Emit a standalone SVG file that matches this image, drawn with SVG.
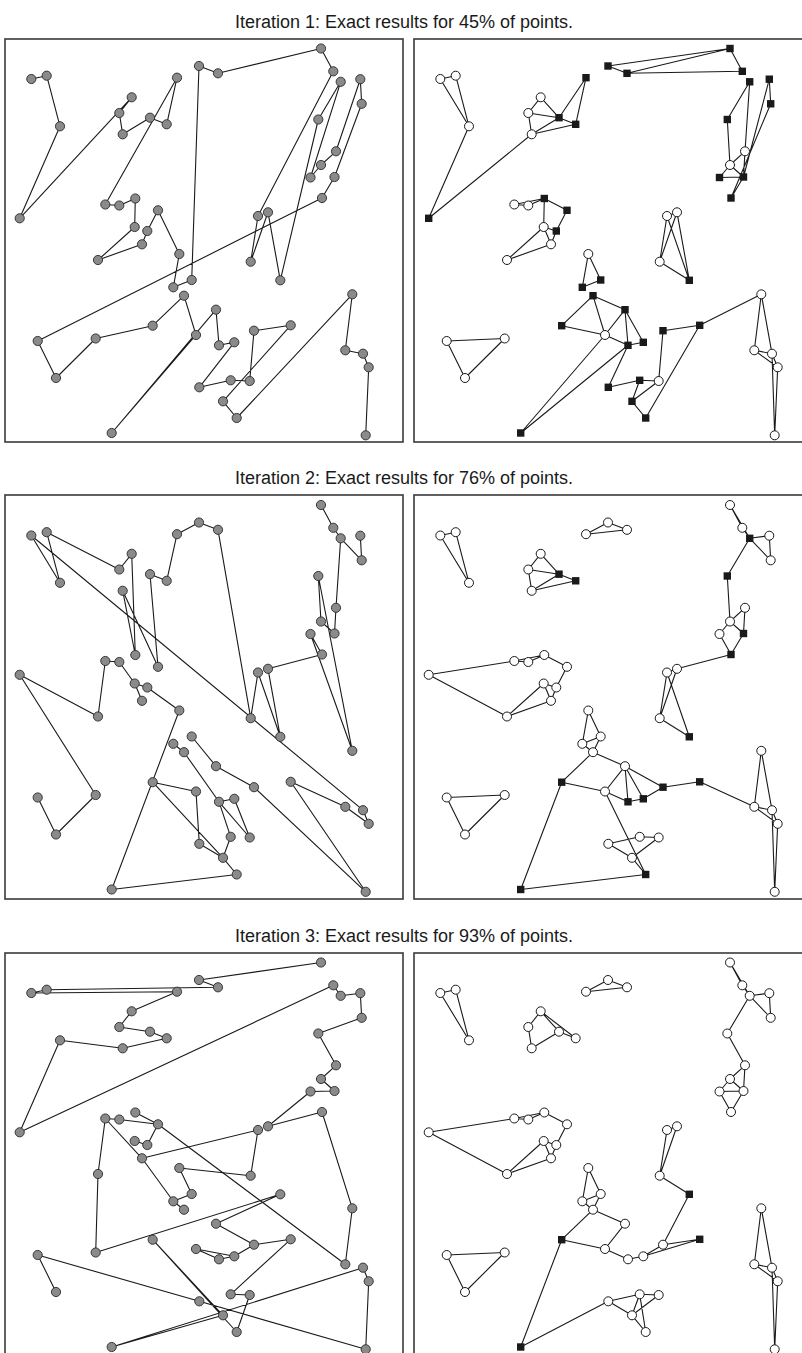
<svg xmlns="http://www.w3.org/2000/svg" width="802" height="1353" viewBox="0 0 802 1353">
<style>
.frame{fill:#fff;stroke:#3a3a3a;stroke-width:1.6}
.edge{fill:none;stroke:#1a1a1a;stroke-width:1.1;stroke-linejoin:round}
.title{font-family:"Liberation Sans",Arial,sans-serif;font-size:18px;fill:#1a1a1a;text-anchor:middle}
</style>
<defs>
<circle id="gc" r="4.6" fill="#8a8a8a" stroke="#2a2a2a" stroke-width="0.9"/>
<circle id="wc" r="4.5" fill="#fff" stroke="#1a1a1a" stroke-width="1"/>
<rect id="sq" x="-3.7" y="-3.7" width="7.4" height="7.4" fill="#1a1a1a"/>
</defs>
<rect width="802" height="1353" fill="#fff"/>
<g id="titles">
<text class="title" x="404" y="28">Iteration 1: Exact results for 45% of points.</text>
<text class="title" x="404" y="484">Iteration 2: Exact results for 76% of points.</text>
<text class="title" x="404" y="942">Iteration 3: Exact results for 93% of points.</text>
</g>
<g id="frames">
<rect class="frame" x="5" y="39" width="398" height="403"/>
<rect class="frame" x="414" y="39" width="400" height="403"/>
<rect class="frame" x="5" y="495" width="398" height="404"/>
<rect class="frame" x="414" y="495" width="400" height="404"/>
<rect class="frame" x="5" y="953" width="398" height="410"/>
<rect class="frame" x="414" y="953" width="400" height="410"/>
</g>
<g id="connectors">
<g transform="translate(5,39)">
<polyline class="edge" points="26.3,40 41.7,36.7 55,87.3 14.7,179.3 126.7,58.3 114.3,74 117.7,95.3 145,78.7 161.7,85.3 172,38.7 100.3,165.5 114.3,166.5 130.3,159.5 129.7,188 93,221 137,205.3 142.3,192 153,171.3 174.3,215 168.3,248.3 186.7,241 194,27 213,34.3 316,9.5 328.3,32.3 253,177 245.7,222.7 263,173.3 275.3,241.3 313.3,80.5 335.7,42.8 305.5,138.5 316,126 331,112.3 355.3,40.2 356.7,64.8 329.5,138 317,159 32.7,302 51,339 90.7,299.5 147.7,286.7 179,256.7 191,296 106.7,394 211,270.7 214,306.3 229.3,303.3 194.3,348.3 225.7,341.3 244.7,342 249,291.7 285.7,286.3 218,362.3 231.7,379 347.3,255.3 340.3,311.3 358,314.7 363.7,328.3 360.7,396.3"/>
</g>
<g transform="translate(5,495.5)">
<path class="edge" d="M26.3 40L55 87.3M41.7 36.7L55 87.3M41.7 36.7L114.3 74L126.7 58.3L130.3 159.5M117.7 95.3L130.3 159.5M117.7 95.3L153 171.3L145 78.7L161.7 85.3L172 38.7L194 27L213 34.3L245.7 222.7M26.3 40L358 314.7M316 9.5L328.3 32.3L335.7 42.8L356.7 64.8L355.3 40.2M335.7 42.8L331 112.3L329.5 138L316 126L313.3 80.5L347.3 255.3M263 173.3L317 159L305.5 138.5L347.3 255.3M245.7 222.7L253 177L275.3 241.3L263 173.3M100.3 165.5L114.3 166.5L129.7 188L137 205.3M129.7 188L142.3 192L174.3 215L106.7 394M14.7 179.3L90.7 299.5M14.7 179.3L93 221L100.3 165.5M90.7 299.5L51 339L32.7 302M168.3 248.3L179 256.7L214 306.3M186.7 241L211 270.7L249 291.7L360.7 396.3M214 306.3L229.3 303.3L244.7 342M214 306.3L225.7 341.3L218 362.3M214 306.3L244.7 342M194.3 348.3L218 362.3L231.7 379L106.7 394M147.7 286.7L218 362.3M191 296L194.3 348.3M147.7 286.7L191 296M285.7 286.3L340.3 311.3L363.7 328.3L358 314.7M285.7 286.3L360.7 396.3"/>
</g>
<g transform="translate(5,953)">
<polyline class="edge" points="316,9.5 194,27 213,34.3 41.7,36.7 26.3,40 172,38.7 126.7,58.3 114.3,74 145,78.7 161.7,85.3 117.7,95.3 55,87.3 14.7,179.3 328.3,32.3 335.7,42.8 355.3,40.2 356.7,64.8 313.3,80.5 331,112.3 316,126 329.5,138 305.5,138.5 263,173.3 317,159 347.3,255.3 340.3,311.3 153,171.3"/>
<path class="edge" d="M153 171.3L142.3 192L129.7 188M114.3 166.5L153 171.3M130.3 159.5L153 171.3M100.3 165.5L114.3 166.5M100.3 165.5L93 221L90.7 299.5L275.3 241.3L211 270.7L249 291.7L229.3 303.3L214 306.3L191 296M191 296L229.3 303.3M249 291.7L285.7 286.3L225.7 341.3L244.7 342L231.7 379L147.7 286.7L218 362.3L106.7 394L358 314.7L363.7 328.3L360.7 396.3L194.3 348.3L32.7 302L51 339M100.3 165.5L137 205.3L253 177L245.7 222.7L174.3 215L186.7 241L168.3 248.3L179 256.7M137 205.3L168.3 248.3"/>
</g>
<g transform="translate(414,39)">
<path class="edge" d="M26.3 40L41.7 36.7L55 87.3ZM55 87.3L14.7 179.3L117.7 95.3M126.7 58.3L114.3 74L117.7 95.3L145 78.7ZM114.3 74L145 78.7L161.7 85.3L117.7 95.3M145 78.7L172 38.7L161.7 85.3M194 27L213 34.3L316 9.5ZM213 34.3L328.3 32.3L316 9.5M335.7 42.8L313.3 80.5L316 126M335.7 42.8L331 112.3M355.3 40.2L356.7 64.8L317 159M355.3 40.2L329.5 138M331 112.3L316 126L329.5 138ZM316 126L305.5 138.5L329.5 138L317 159M100.3 165.5L114.3 166.5L130.3 159.5ZM130.3 159.5L129.7 188M130.3 159.5L153 171.3L142.3 192M129.7 188L142.3 192L137 205.3ZM137 205.3L93 221L129.7 188M253 177L263 173.3L245.7 222.7ZM245.7 222.7L275.3 241.3L263 173.3M275.3 241.3L253 177M174.3 215L168.3 248.3L186.7 241ZM147.7 286.7L179 256.7L211 270.7M179 256.7L191 296M147.7 286.7L191 296M211 270.7L191 296L214 306.3M211 270.7L214 306.3M211 270.7L229.3 303.3M214 306.3L229.3 303.3M214 306.3L194.3 348.3L225.7 341.3M225.7 341.3L244.7 342L218 362.3ZM218 362.3L231.7 379L285.7 286.3M244.7 342L249 291.7L285.7 286.3L347.3 255.3M191 296L106.7 394L214 306.3M32.7 302L51 339L90.7 299.5ZM347.3 255.3L340.3 311.3L358 314.7ZM340.3 311.3L363.7 328.3L358 314.7M363.7 328.3L360.7 396.3L358 314.7"/>
</g>
<g transform="translate(414,495.5)">
<path class="edge" d="M26.3 40L41.7 36.7L55 87.3ZM126.7 58.3L114.3 74L117.7 95.3L145 78.7ZM114.3 74L145 78.7L161.7 85.3L117.7 95.3M172 38.7L194 27L213 34.3ZM316 9.5L328.3 32.3L335.7 42.8ZM335.7 42.8L355.3 40.2L356.7 64.8ZM335.7 42.8L313.3 80.5L316 126M331 112.3L316 126L329.5 138ZM316 126L305.5 138.5L317 159L329.5 138M317 159L263 173.3M100.3 165.5L14.7 179.3L93 221M100.3 165.5L114.3 166.5L130.3 159.5ZM130.3 159.5L153 171.3L142.3 192M129.7 188L142.3 192L137 205.3ZM137 205.3L93 221L129.7 188M253 177L263 173.3L245.7 222.7ZM245.7 222.7L275.3 241.3L253 177M186.7 241L174.3 215L168.3 248.3L186.7 241L179 256.7L168.3 248.3M179 256.7L211 270.7M211 270.7L191 296L214 306.3M191 296L147.7 286.7L179 256.7M211 270.7L214 306.3L229.3 303.3M211 270.7L229.3 303.3L249 291.7M211 270.7L249 291.7L285.7 286.3L340.3 311.3M147.7 286.7L106.7 394L231.7 379L191 296M194.3 348.3L218 362.3L231.7 379M194.3 348.3L225.7 341.3L244.7 342L218 362.3ZM32.7 302L51 339L90.7 299.5ZM347.3 255.3L340.3 311.3L358 314.7ZM340.3 311.3L363.7 328.3L358 314.7M363.7 328.3L360.7 396.3L358 314.7"/>
</g>
<g transform="translate(414,953)">
<path class="edge" d="M26.3 40L41.7 36.7L55 87.3ZM126.7 58.3L114.3 74L117.7 95.3L145 78.7ZM145 78.7L161.7 85.3L126.7 58.3M172 38.7L194 27L213 34.3ZM316 9.5L328.3 32.3L335.7 42.8ZM335.7 42.8L355.3 40.2L356.7 64.8ZM335.7 42.8L313.3 80.5L331 112.3M331 112.3L316 126L329.5 138ZM316 126L305.5 138.5L317 159L329.5 138L305.5 138.5M100.3 165.5L14.7 179.3L93 221M100.3 165.5L114.3 166.5L130.3 159.5ZM130.3 159.5L153 171.3L142.3 192M129.7 188L142.3 192L137 205.3ZM137 205.3L93 221L129.7 188M253 177L263 173.3L245.7 222.7ZM245.7 222.7L275.3 241.3M186.7 241L174.3 215L168.3 248.3L186.7 241L179 256.7L168.3 248.3M179 256.7L211 270.7M211 270.7L191 296L214 306.3M214 306.3L229.3 303.3L249 291.7L285.7 286.3L229.3 303.3M275.3 241.3L249 291.7M191 296L147.7 286.7L179 256.7M147.7 286.7L106.7 394L194.3 348.3M32.7 302L51 339L90.7 299.5ZM347.3 255.3L340.3 311.3L358 314.7ZM340.3 311.3L363.7 328.3L358 314.7M363.7 328.3L360.7 396.3L358 314.7M194.3 348.3L218 362.3L231.7 379L225.7 341.3ZM225.7 341.3L244.7 342L218 362.3Z"/>
</g>
</g>
<g id="nodes-L1" transform="translate(5,39)">
<g id="l1-A"><use href="#gc" x="26.3" y="40"/></g><g id="l1-B"><use href="#gc" x="41.7" y="36.7"/></g><g id="l1-C"><use href="#gc" x="55" y="87.3"/></g><g id="l1-D"><use href="#gc" x="14.7" y="179.3"/></g><g id="l1-E"><use href="#gc" x="126.7" y="58.3"/></g><g id="l1-F"><use href="#gc" x="114.3" y="74"/></g><g id="l1-G"><use href="#gc" x="117.7" y="95.3"/></g><g id="l1-H"><use href="#gc" x="145" y="78.7"/></g><g id="l1-I"><use href="#gc" x="161.7" y="85.3"/></g><g id="l1-J"><use href="#gc" x="172" y="38.7"/></g><g id="l1-K"><use href="#gc" x="194" y="27"/></g><g id="l1-L"><use href="#gc" x="213" y="34.3"/></g><g id="l1-M"><use href="#gc" x="316" y="9.5"/></g><g id="l1-N"><use href="#gc" x="328.3" y="32.3"/></g><g id="l1-O"><use href="#gc" x="335.7" y="42.8"/></g><g id="l1-P"><use href="#gc" x="355.3" y="40.2"/></g><g id="l1-Q"><use href="#gc" x="356.7" y="64.8"/></g><g id="l1-R"><use href="#gc" x="313.3" y="80.5"/></g><g id="l1-S"><use href="#gc" x="331" y="112.3"/></g><g id="l1-T"><use href="#gc" x="316" y="126"/></g><g id="l1-U"><use href="#gc" x="305.5" y="138.5"/></g><g id="l1-V"><use href="#gc" x="329.5" y="138"/></g><g id="l1-W"><use href="#gc" x="317" y="159"/></g><g id="l1-X"><use href="#gc" x="100.3" y="165.5"/></g><g id="l1-Y"><use href="#gc" x="114.3" y="166.5"/></g><g id="l1-Z"><use href="#gc" x="130.3" y="159.5"/></g><g id="l1-AA"><use href="#gc" x="129.7" y="188"/></g><g id="l1-AB"><use href="#gc" x="153" y="171.3"/></g><g id="l1-AC"><use href="#gc" x="142.3" y="192"/></g><g id="l1-AD"><use href="#gc" x="253" y="177"/></g><g id="l1-AE"><use href="#gc" x="263" y="173.3"/></g><g id="l1-AF"><use href="#gc" x="137" y="205.3"/></g><g id="l1-AG"><use href="#gc" x="93" y="221"/></g><g id="l1-AH"><use href="#gc" x="174.3" y="215"/></g><g id="l1-AI"><use href="#gc" x="245.7" y="222.7"/></g><g id="l1-AJ"><use href="#gc" x="275.3" y="241.3"/></g><g id="l1-AK"><use href="#gc" x="168.3" y="248.3"/></g><g id="l1-AL"><use href="#gc" x="186.7" y="241"/></g><g id="l1-AM"><use href="#gc" x="179" y="256.7"/></g><g id="l1-AN"><use href="#gc" x="32.7" y="302"/></g><g id="l1-AO"><use href="#gc" x="90.7" y="299.5"/></g><g id="l1-AP"><use href="#gc" x="147.7" y="286.7"/></g><g id="l1-AQ"><use href="#gc" x="191" y="296"/></g><g id="l1-AR"><use href="#gc" x="211" y="270.7"/></g><g id="l1-AS"><use href="#gc" x="51" y="339"/></g><g id="l1-AT"><use href="#gc" x="214" y="306.3"/></g><g id="l1-AU"><use href="#gc" x="229.3" y="303.3"/></g><g id="l1-AV"><use href="#gc" x="249" y="291.7"/></g><g id="l1-AW"><use href="#gc" x="285.7" y="286.3"/></g><g id="l1-AX"><use href="#gc" x="347.3" y="255.3"/></g><g id="l1-AY"><use href="#gc" x="340.3" y="311.3"/></g><g id="l1-AZ"><use href="#gc" x="358" y="314.7"/></g><g id="l1-BA"><use href="#gc" x="363.7" y="328.3"/></g><g id="l1-BB"><use href="#gc" x="194.3" y="348.3"/></g><g id="l1-BC"><use href="#gc" x="225.7" y="341.3"/></g><g id="l1-BD"><use href="#gc" x="244.7" y="342"/></g><g id="l1-BE"><use href="#gc" x="218" y="362.3"/></g><g id="l1-BF"><use href="#gc" x="231.7" y="379"/></g><g id="l1-BG"><use href="#gc" x="106.7" y="394"/></g><g id="l1-BH"><use href="#gc" x="360.7" y="396.3"/></g>
</g>
<g id="nodes-L2" transform="translate(5,495.5)">
<g id="l2-A"><use href="#gc" x="26.3" y="40"/></g><g id="l2-B"><use href="#gc" x="41.7" y="36.7"/></g><g id="l2-C"><use href="#gc" x="55" y="87.3"/></g><g id="l2-D"><use href="#gc" x="14.7" y="179.3"/></g><g id="l2-E"><use href="#gc" x="126.7" y="58.3"/></g><g id="l2-F"><use href="#gc" x="114.3" y="74"/></g><g id="l2-G"><use href="#gc" x="117.7" y="95.3"/></g><g id="l2-H"><use href="#gc" x="145" y="78.7"/></g><g id="l2-I"><use href="#gc" x="161.7" y="85.3"/></g><g id="l2-J"><use href="#gc" x="172" y="38.7"/></g><g id="l2-K"><use href="#gc" x="194" y="27"/></g><g id="l2-L"><use href="#gc" x="213" y="34.3"/></g><g id="l2-M"><use href="#gc" x="316" y="9.5"/></g><g id="l2-N"><use href="#gc" x="328.3" y="32.3"/></g><g id="l2-O"><use href="#gc" x="335.7" y="42.8"/></g><g id="l2-P"><use href="#gc" x="355.3" y="40.2"/></g><g id="l2-Q"><use href="#gc" x="356.7" y="64.8"/></g><g id="l2-R"><use href="#gc" x="313.3" y="80.5"/></g><g id="l2-S"><use href="#gc" x="331" y="112.3"/></g><g id="l2-T"><use href="#gc" x="316" y="126"/></g><g id="l2-U"><use href="#gc" x="305.5" y="138.5"/></g><g id="l2-V"><use href="#gc" x="329.5" y="138"/></g><g id="l2-W"><use href="#gc" x="317" y="159"/></g><g id="l2-X"><use href="#gc" x="100.3" y="165.5"/></g><g id="l2-Y"><use href="#gc" x="114.3" y="166.5"/></g><g id="l2-Z"><use href="#gc" x="130.3" y="159.5"/></g><g id="l2-AA"><use href="#gc" x="129.7" y="188"/></g><g id="l2-AB"><use href="#gc" x="153" y="171.3"/></g><g id="l2-AC"><use href="#gc" x="142.3" y="192"/></g><g id="l2-AD"><use href="#gc" x="253" y="177"/></g><g id="l2-AE"><use href="#gc" x="263" y="173.3"/></g><g id="l2-AF"><use href="#gc" x="137" y="205.3"/></g><g id="l2-AG"><use href="#gc" x="93" y="221"/></g><g id="l2-AH"><use href="#gc" x="174.3" y="215"/></g><g id="l2-AI"><use href="#gc" x="245.7" y="222.7"/></g><g id="l2-AJ"><use href="#gc" x="275.3" y="241.3"/></g><g id="l2-AK"><use href="#gc" x="168.3" y="248.3"/></g><g id="l2-AL"><use href="#gc" x="186.7" y="241"/></g><g id="l2-AM"><use href="#gc" x="179" y="256.7"/></g><g id="l2-AN"><use href="#gc" x="32.7" y="302"/></g><g id="l2-AO"><use href="#gc" x="90.7" y="299.5"/></g><g id="l2-AP"><use href="#gc" x="147.7" y="286.7"/></g><g id="l2-AQ"><use href="#gc" x="191" y="296"/></g><g id="l2-AR"><use href="#gc" x="211" y="270.7"/></g><g id="l2-AS"><use href="#gc" x="51" y="339"/></g><g id="l2-AT"><use href="#gc" x="214" y="306.3"/></g><g id="l2-AU"><use href="#gc" x="229.3" y="303.3"/></g><g id="l2-AV"><use href="#gc" x="249" y="291.7"/></g><g id="l2-AW"><use href="#gc" x="285.7" y="286.3"/></g><g id="l2-AX"><use href="#gc" x="347.3" y="255.3"/></g><g id="l2-AY"><use href="#gc" x="340.3" y="311.3"/></g><g id="l2-AZ"><use href="#gc" x="358" y="314.7"/></g><g id="l2-BA"><use href="#gc" x="363.7" y="328.3"/></g><g id="l2-BB"><use href="#gc" x="194.3" y="348.3"/></g><g id="l2-BC"><use href="#gc" x="225.7" y="341.3"/></g><g id="l2-BD"><use href="#gc" x="244.7" y="342"/></g><g id="l2-BE"><use href="#gc" x="218" y="362.3"/></g><g id="l2-BF"><use href="#gc" x="231.7" y="379"/></g><g id="l2-BG"><use href="#gc" x="106.7" y="394"/></g><g id="l2-BH"><use href="#gc" x="360.7" y="396.3"/></g>
</g>
<g id="nodes-L3" transform="translate(5,953)">
<g id="l3-A"><use href="#gc" x="26.3" y="40"/></g><g id="l3-B"><use href="#gc" x="41.7" y="36.7"/></g><g id="l3-C"><use href="#gc" x="55" y="87.3"/></g><g id="l3-D"><use href="#gc" x="14.7" y="179.3"/></g><g id="l3-E"><use href="#gc" x="126.7" y="58.3"/></g><g id="l3-F"><use href="#gc" x="114.3" y="74"/></g><g id="l3-G"><use href="#gc" x="117.7" y="95.3"/></g><g id="l3-H"><use href="#gc" x="145" y="78.7"/></g><g id="l3-I"><use href="#gc" x="161.7" y="85.3"/></g><g id="l3-J"><use href="#gc" x="172" y="38.7"/></g><g id="l3-K"><use href="#gc" x="194" y="27"/></g><g id="l3-L"><use href="#gc" x="213" y="34.3"/></g><g id="l3-M"><use href="#gc" x="316" y="9.5"/></g><g id="l3-N"><use href="#gc" x="328.3" y="32.3"/></g><g id="l3-O"><use href="#gc" x="335.7" y="42.8"/></g><g id="l3-P"><use href="#gc" x="355.3" y="40.2"/></g><g id="l3-Q"><use href="#gc" x="356.7" y="64.8"/></g><g id="l3-R"><use href="#gc" x="313.3" y="80.5"/></g><g id="l3-S"><use href="#gc" x="331" y="112.3"/></g><g id="l3-T"><use href="#gc" x="316" y="126"/></g><g id="l3-U"><use href="#gc" x="305.5" y="138.5"/></g><g id="l3-V"><use href="#gc" x="329.5" y="138"/></g><g id="l3-W"><use href="#gc" x="317" y="159"/></g><g id="l3-X"><use href="#gc" x="100.3" y="165.5"/></g><g id="l3-Y"><use href="#gc" x="114.3" y="166.5"/></g><g id="l3-Z"><use href="#gc" x="130.3" y="159.5"/></g><g id="l3-AA"><use href="#gc" x="129.7" y="188"/></g><g id="l3-AB"><use href="#gc" x="153" y="171.3"/></g><g id="l3-AC"><use href="#gc" x="142.3" y="192"/></g><g id="l3-AD"><use href="#gc" x="253" y="177"/></g><g id="l3-AE"><use href="#gc" x="263" y="173.3"/></g><g id="l3-AF"><use href="#gc" x="137" y="205.3"/></g><g id="l3-AG"><use href="#gc" x="93" y="221"/></g><g id="l3-AH"><use href="#gc" x="174.3" y="215"/></g><g id="l3-AI"><use href="#gc" x="245.7" y="222.7"/></g><g id="l3-AJ"><use href="#gc" x="275.3" y="241.3"/></g><g id="l3-AK"><use href="#gc" x="168.3" y="248.3"/></g><g id="l3-AL"><use href="#gc" x="186.7" y="241"/></g><g id="l3-AM"><use href="#gc" x="179" y="256.7"/></g><g id="l3-AN"><use href="#gc" x="32.7" y="302"/></g><g id="l3-AO"><use href="#gc" x="90.7" y="299.5"/></g><g id="l3-AP"><use href="#gc" x="147.7" y="286.7"/></g><g id="l3-AQ"><use href="#gc" x="191" y="296"/></g><g id="l3-AR"><use href="#gc" x="211" y="270.7"/></g><g id="l3-AS"><use href="#gc" x="51" y="339"/></g><g id="l3-AT"><use href="#gc" x="214" y="306.3"/></g><g id="l3-AU"><use href="#gc" x="229.3" y="303.3"/></g><g id="l3-AV"><use href="#gc" x="249" y="291.7"/></g><g id="l3-AW"><use href="#gc" x="285.7" y="286.3"/></g><g id="l3-AX"><use href="#gc" x="347.3" y="255.3"/></g><g id="l3-AY"><use href="#gc" x="340.3" y="311.3"/></g><g id="l3-AZ"><use href="#gc" x="358" y="314.7"/></g><g id="l3-BA"><use href="#gc" x="363.7" y="328.3"/></g><g id="l3-BB"><use href="#gc" x="194.3" y="348.3"/></g><g id="l3-BC"><use href="#gc" x="225.7" y="341.3"/></g><g id="l3-BD"><use href="#gc" x="244.7" y="342"/></g><g id="l3-BE"><use href="#gc" x="218" y="362.3"/></g><g id="l3-BF"><use href="#gc" x="231.7" y="379"/></g><g id="l3-BG"><use href="#gc" x="106.7" y="394"/></g><g id="l3-BH"><use href="#gc" x="360.7" y="396.3"/></g>
</g>
<g id="nodes-R1" transform="translate(414,39)">
<g id="r1-A"><use href="#wc" x="26.3" y="40"/></g><g id="r1-B"><use href="#wc" x="41.7" y="36.7"/></g><g id="r1-C"><use href="#wc" x="55" y="87.3"/></g><g id="r1-D"><use href="#sq" x="14.7" y="179.3"/></g><g id="r1-E"><use href="#wc" x="126.7" y="58.3"/></g><g id="r1-F"><use href="#wc" x="114.3" y="74"/></g><g id="r1-G"><use href="#wc" x="117.7" y="95.3"/></g><g id="r1-H"><use href="#sq" x="145" y="78.7"/></g><g id="r1-I"><use href="#sq" x="161.7" y="85.3"/></g><g id="r1-J"><use href="#sq" x="172" y="38.7"/></g><g id="r1-K"><use href="#sq" x="194" y="27"/></g><g id="r1-L"><use href="#sq" x="213" y="34.3"/></g><g id="r1-M"><use href="#sq" x="316" y="9.5"/></g><g id="r1-N"><use href="#sq" x="328.3" y="32.3"/></g><g id="r1-O"><use href="#sq" x="335.7" y="42.8"/></g><g id="r1-P"><use href="#sq" x="355.3" y="40.2"/></g><g id="r1-Q"><use href="#sq" x="356.7" y="64.8"/></g><g id="r1-R"><use href="#sq" x="313.3" y="80.5"/></g><g id="r1-S"><use href="#wc" x="331" y="112.3"/></g><g id="r1-T"><use href="#wc" x="316" y="126"/></g><g id="r1-U"><use href="#sq" x="305.5" y="138.5"/></g><g id="r1-V"><use href="#sq" x="329.5" y="138"/></g><g id="r1-W"><use href="#sq" x="317" y="159"/></g><g id="r1-X"><use href="#wc" x="100.3" y="165.5"/></g><g id="r1-Y"><use href="#wc" x="114.3" y="166.5"/></g><g id="r1-Z"><use href="#sq" x="130.3" y="159.5"/></g><g id="r1-AA"><use href="#wc" x="129.7" y="188"/></g><g id="r1-AB"><use href="#sq" x="153" y="171.3"/></g><g id="r1-AC"><use href="#sq" x="142.3" y="192"/></g><g id="r1-AD"><use href="#wc" x="253" y="177"/></g><g id="r1-AE"><use href="#wc" x="263" y="173.3"/></g><g id="r1-AF"><use href="#wc" x="137" y="205.3"/></g><g id="r1-AG"><use href="#wc" x="93" y="221"/></g><g id="r1-AH"><use href="#wc" x="174.3" y="215"/></g><g id="r1-AI"><use href="#wc" x="245.7" y="222.7"/></g><g id="r1-AJ"><use href="#sq" x="275.3" y="241.3"/></g><g id="r1-AK"><use href="#sq" x="168.3" y="248.3"/></g><g id="r1-AL"><use href="#sq" x="186.7" y="241"/></g><g id="r1-AM"><use href="#sq" x="179" y="256.7"/></g><g id="r1-AN"><use href="#wc" x="32.7" y="302"/></g><g id="r1-AO"><use href="#wc" x="90.7" y="299.5"/></g><g id="r1-AP"><use href="#sq" x="147.7" y="286.7"/></g><g id="r1-AQ"><use href="#wc" x="191" y="296"/></g><g id="r1-AR"><use href="#sq" x="211" y="270.7"/></g><g id="r1-AS"><use href="#wc" x="51" y="339"/></g><g id="r1-AT"><use href="#sq" x="214" y="306.3"/></g><g id="r1-AU"><use href="#sq" x="229.3" y="303.3"/></g><g id="r1-AV"><use href="#sq" x="249" y="291.7"/></g><g id="r1-AW"><use href="#sq" x="285.7" y="286.3"/></g><g id="r1-AX"><use href="#wc" x="347.3" y="255.3"/></g><g id="r1-AY"><use href="#wc" x="340.3" y="311.3"/></g><g id="r1-AZ"><use href="#wc" x="358" y="314.7"/></g><g id="r1-BA"><use href="#wc" x="363.7" y="328.3"/></g><g id="r1-BB"><use href="#sq" x="194.3" y="348.3"/></g><g id="r1-BC"><use href="#sq" x="225.7" y="341.3"/></g><g id="r1-BD"><use href="#wc" x="244.7" y="342"/></g><g id="r1-BE"><use href="#sq" x="218" y="362.3"/></g><g id="r1-BF"><use href="#sq" x="231.7" y="379"/></g><g id="r1-BG"><use href="#sq" x="106.7" y="394"/></g><g id="r1-BH"><use href="#wc" x="360.7" y="396.3"/></g>
</g>
<g id="nodes-R2" transform="translate(414,495.5)">
<g id="r2-A"><use href="#wc" x="26.3" y="40"/></g><g id="r2-B"><use href="#wc" x="41.7" y="36.7"/></g><g id="r2-C"><use href="#wc" x="55" y="87.3"/></g><g id="r2-D"><use href="#wc" x="14.7" y="179.3"/></g><g id="r2-E"><use href="#wc" x="126.7" y="58.3"/></g><g id="r2-F"><use href="#wc" x="114.3" y="74"/></g><g id="r2-G"><use href="#wc" x="117.7" y="95.3"/></g><g id="r2-H"><use href="#sq" x="145" y="78.7"/></g><g id="r2-I"><use href="#sq" x="161.7" y="85.3"/></g><g id="r2-J"><use href="#wc" x="172" y="38.7"/></g><g id="r2-K"><use href="#wc" x="194" y="27"/></g><g id="r2-L"><use href="#wc" x="213" y="34.3"/></g><g id="r2-M"><use href="#wc" x="316" y="9.5"/></g><g id="r2-N"><use href="#wc" x="328.3" y="32.3"/></g><g id="r2-O"><use href="#sq" x="335.7" y="42.8"/></g><g id="r2-P"><use href="#wc" x="355.3" y="40.2"/></g><g id="r2-Q"><use href="#wc" x="356.7" y="64.8"/></g><g id="r2-R"><use href="#sq" x="313.3" y="80.5"/></g><g id="r2-S"><use href="#wc" x="331" y="112.3"/></g><g id="r2-T"><use href="#wc" x="316" y="126"/></g><g id="r2-U"><use href="#wc" x="305.5" y="138.5"/></g><g id="r2-V"><use href="#sq" x="329.5" y="138"/></g><g id="r2-W"><use href="#sq" x="317" y="159"/></g><g id="r2-X"><use href="#wc" x="100.3" y="165.5"/></g><g id="r2-Y"><use href="#wc" x="114.3" y="166.5"/></g><g id="r2-Z"><use href="#wc" x="130.3" y="159.5"/></g><g id="r2-AA"><use href="#wc" x="129.7" y="188"/></g><g id="r2-AB"><use href="#wc" x="153" y="171.3"/></g><g id="r2-AC"><use href="#wc" x="142.3" y="192"/></g><g id="r2-AD"><use href="#wc" x="253" y="177"/></g><g id="r2-AE"><use href="#wc" x="263" y="173.3"/></g><g id="r2-AF"><use href="#wc" x="137" y="205.3"/></g><g id="r2-AG"><use href="#wc" x="93" y="221"/></g><g id="r2-AH"><use href="#wc" x="174.3" y="215"/></g><g id="r2-AI"><use href="#wc" x="245.7" y="222.7"/></g><g id="r2-AJ"><use href="#sq" x="275.3" y="241.3"/></g><g id="r2-AK"><use href="#wc" x="168.3" y="248.3"/></g><g id="r2-AL"><use href="#wc" x="186.7" y="241"/></g><g id="r2-AM"><use href="#wc" x="179" y="256.7"/></g><g id="r2-AN"><use href="#wc" x="32.7" y="302"/></g><g id="r2-AO"><use href="#wc" x="90.7" y="299.5"/></g><g id="r2-AP"><use href="#sq" x="147.7" y="286.7"/></g><g id="r2-AQ"><use href="#wc" x="191" y="296"/></g><g id="r2-AR"><use href="#wc" x="211" y="270.7"/></g><g id="r2-AS"><use href="#wc" x="51" y="339"/></g><g id="r2-AT"><use href="#sq" x="214" y="306.3"/></g><g id="r2-AU"><use href="#sq" x="229.3" y="303.3"/></g><g id="r2-AV"><use href="#sq" x="249" y="291.7"/></g><g id="r2-AW"><use href="#sq" x="285.7" y="286.3"/></g><g id="r2-AX"><use href="#wc" x="347.3" y="255.3"/></g><g id="r2-AY"><use href="#wc" x="340.3" y="311.3"/></g><g id="r2-AZ"><use href="#wc" x="358" y="314.7"/></g><g id="r2-BA"><use href="#wc" x="363.7" y="328.3"/></g><g id="r2-BB"><use href="#wc" x="194.3" y="348.3"/></g><g id="r2-BC"><use href="#wc" x="225.7" y="341.3"/></g><g id="r2-BD"><use href="#wc" x="244.7" y="342"/></g><g id="r2-BE"><use href="#wc" x="218" y="362.3"/></g><g id="r2-BF"><use href="#sq" x="231.7" y="379"/></g><g id="r2-BG"><use href="#sq" x="106.7" y="394"/></g><g id="r2-BH"><use href="#wc" x="360.7" y="396.3"/></g>
</g>
<g id="nodes-R3" transform="translate(414,953)">
<g id="r3-A"><use href="#wc" x="26.3" y="40"/></g><g id="r3-B"><use href="#wc" x="41.7" y="36.7"/></g><g id="r3-C"><use href="#wc" x="55" y="87.3"/></g><g id="r3-D"><use href="#wc" x="14.7" y="179.3"/></g><g id="r3-E"><use href="#wc" x="126.7" y="58.3"/></g><g id="r3-F"><use href="#wc" x="114.3" y="74"/></g><g id="r3-G"><use href="#wc" x="117.7" y="95.3"/></g><g id="r3-H"><use href="#wc" x="145" y="78.7"/></g><g id="r3-I"><use href="#wc" x="161.7" y="85.3"/></g><g id="r3-J"><use href="#wc" x="172" y="38.7"/></g><g id="r3-K"><use href="#wc" x="194" y="27"/></g><g id="r3-L"><use href="#wc" x="213" y="34.3"/></g><g id="r3-M"><use href="#wc" x="316" y="9.5"/></g><g id="r3-N"><use href="#wc" x="328.3" y="32.3"/></g><g id="r3-O"><use href="#wc" x="335.7" y="42.8"/></g><g id="r3-P"><use href="#wc" x="355.3" y="40.2"/></g><g id="r3-Q"><use href="#wc" x="356.7" y="64.8"/></g><g id="r3-R"><use href="#wc" x="313.3" y="80.5"/></g><g id="r3-S"><use href="#wc" x="331" y="112.3"/></g><g id="r3-T"><use href="#wc" x="316" y="126"/></g><g id="r3-U"><use href="#wc" x="305.5" y="138.5"/></g><g id="r3-V"><use href="#wc" x="329.5" y="138"/></g><g id="r3-W"><use href="#wc" x="317" y="159"/></g><g id="r3-X"><use href="#wc" x="100.3" y="165.5"/></g><g id="r3-Y"><use href="#wc" x="114.3" y="166.5"/></g><g id="r3-Z"><use href="#wc" x="130.3" y="159.5"/></g><g id="r3-AA"><use href="#wc" x="129.7" y="188"/></g><g id="r3-AB"><use href="#wc" x="153" y="171.3"/></g><g id="r3-AC"><use href="#wc" x="142.3" y="192"/></g><g id="r3-AD"><use href="#wc" x="253" y="177"/></g><g id="r3-AE"><use href="#wc" x="263" y="173.3"/></g><g id="r3-AF"><use href="#wc" x="137" y="205.3"/></g><g id="r3-AG"><use href="#wc" x="93" y="221"/></g><g id="r3-AH"><use href="#wc" x="174.3" y="215"/></g><g id="r3-AI"><use href="#wc" x="245.7" y="222.7"/></g><g id="r3-AJ"><use href="#sq" x="275.3" y="241.3"/></g><g id="r3-AK"><use href="#wc" x="168.3" y="248.3"/></g><g id="r3-AL"><use href="#wc" x="186.7" y="241"/></g><g id="r3-AM"><use href="#wc" x="179" y="256.7"/></g><g id="r3-AN"><use href="#wc" x="32.7" y="302"/></g><g id="r3-AO"><use href="#wc" x="90.7" y="299.5"/></g><g id="r3-AP"><use href="#sq" x="147.7" y="286.7"/></g><g id="r3-AQ"><use href="#wc" x="191" y="296"/></g><g id="r3-AR"><use href="#wc" x="211" y="270.7"/></g><g id="r3-AS"><use href="#wc" x="51" y="339"/></g><g id="r3-AT"><use href="#wc" x="214" y="306.3"/></g><g id="r3-AU"><use href="#wc" x="229.3" y="303.3"/></g><g id="r3-AV"><use href="#wc" x="249" y="291.7"/></g><g id="r3-AW"><use href="#sq" x="285.7" y="286.3"/></g><g id="r3-AX"><use href="#wc" x="347.3" y="255.3"/></g><g id="r3-AY"><use href="#wc" x="340.3" y="311.3"/></g><g id="r3-AZ"><use href="#wc" x="358" y="314.7"/></g><g id="r3-BA"><use href="#wc" x="363.7" y="328.3"/></g><g id="r3-BB"><use href="#wc" x="194.3" y="348.3"/></g><g id="r3-BC"><use href="#wc" x="225.7" y="341.3"/></g><g id="r3-BD"><use href="#wc" x="244.7" y="342"/></g><g id="r3-BE"><use href="#wc" x="218" y="362.3"/></g><g id="r3-BF"><use href="#wc" x="231.7" y="379"/></g><g id="r3-BG"><use href="#sq" x="106.7" y="394"/></g><g id="r3-BH"><use href="#wc" x="360.7" y="396.3"/></g>
</g>
</svg>
